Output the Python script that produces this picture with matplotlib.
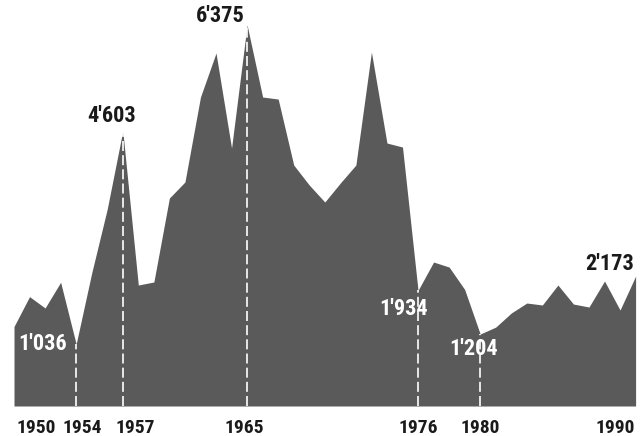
import numpy as np
import matplotlib
matplotlib.use("Agg")
import matplotlib.pyplot as plt
from matplotlib import font_manager
from matplotlib.font_manager import FontProperties

# Jahreswerte 1950-1990
years = list(range(1950, 1991))
values = [1330, 1830, 1640, 2070, 1036, 2225, 3296, 4603, 2024, 2075,
          3480, 3748, 5170, 5906, 4316, 6375, 5170, 5136, 4032, 3697,
          3413, 3731, 4032, 5922, 4400, 4333, 1934, 2409, 2325, 1950,
          1204, 1320, 1556, 1723, 1690, 2024, 1706, 1656, 2091, 1606,
          2173]

tick_years = [1950, 1954, 1957, 1965, 1976, 1980, 1990]
marked_years = [1954, 1957, 1965, 1976, 1980]


def pick_font(prefs):
    # schmale fette Schrift suchen, sonst DejaVu
    fl = font_manager.fontManager.ttflist
    for name in prefs:
        cands = [f for f in fl if f.name == name]
        if not cands:
            continue
        cands.sort(key=lambda f: abs((f.weight if isinstance(f.weight, int) else 400) - 700))
        return FontProperties(fname=cands[0].fname)
    return FontProperties(family='DejaVu Sans', weight='bold')


fp = pick_font(['Roboto Condensed', 'Archivo Narrow', 'PT Sans Narrow',
                'Barlow Condensed', 'Oswald'])

W, H = 643, 436
fig = plt.figure(figsize=(W / 100, H / 100), dpi=100)
ax = fig.add_axes([14 / W, 30 / H, 621.6 / W, 406 / H])

ax.fill_between(years, values, 0, color='#5a5a5a', lw=0)
ax.set_xlim(1950, 1990)
ax.set_ylim(0, 6375 * 406 / 381)
ax.axis('off')

lookup = dict(zip(years, values))

# gestrichelte weisse Linien
for yr in marked_years:
    ax.plot([yr, yr], [0, lookup[yr]], color='white', lw=1.2,
            dashes=(6, 2.5), solid_capstyle='butt')


def px(p):
    # Pixel -> Punkte
    return p * 72 / 100


def label(yr, txt, dx, dy, ha, va, color):
    ax.annotate(txt, xy=(yr, lookup[yr]), xytext=(px(dx), px(dy)),
                textcoords='offset points', ha=ha, va=va, color=color,
                fontproperties=fp, fontsize=16)


label(1954, "1'036", -9, 0, 'right', 'center', 'white')
label(1957, "4'603", -11, 4, 'center', 'bottom', '#1a1a1a')
label(1965, "6'375", -2, -2, 'right', 'bottom', '#1a1a1a')
label(1976, "1'934", 10, -19, 'right', 'center', 'white')
label(1980, "1'204", -7, -15, 'center', 'center', 'white')
label(1990, "2'173", -2, 1, 'right', 'bottom', '#1a1a1a')

# Jahreszahlen unter der Grundlinie
for yr in tick_years:
    ha = 'center'
    dx = 0
    if yr == tick_years[0]:
        ha, dx = 'left', 2
    elif yr == tick_years[-1]:
        ha, dx = 'right', -1
    elif yr == 1954:
        dx = 6
    elif yr == 1957:
        dx = 12
    elif yr == 1965:
        dx = -3
    ax.annotate(str(yr), xy=(yr, 0), xycoords=('data', 'data'),
                xytext=(px(dx), px(-22)), textcoords='offset points',
                ha=ha, va='center', fontproperties=fp, fontsize=14,
                color='#1a1a1a', annotation_clip=False)

fig.savefig('out.png', dpi=100)
